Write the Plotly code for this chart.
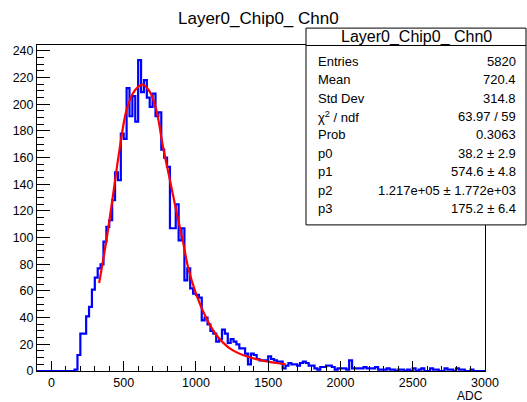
import numpy as np
import plotly.graph_objects as go

# ---------------- data ----------------
title_text = "Layer0_Chip0_ Chn0"
x_title = "ADC"
bin_start = -100
bin_width = 20
# counts for 155 bins of width 20 from -100 to 3000
counts = [
    0, 0, 0, 0, 0, 0, 0, 0, 0, 0, 0, 0, 0,            # -100 .. 140
    1, 12, 28, 28, 41, 48, 61, 70, 77, 80,             # 160 .. 340
    97, 108, 113, 128, 149, 143, 178, 174, 212, 191,   # 360 .. 540
    206, 187, 233, 209, 218, 205, 198, 208, 191, 194,  # 560 .. 740
    166, 160, 153, 107, 107, 125, 98, 107, 68, 77,     # 760 .. 940
    62, 58, 57, 55, 38, 40, 35, 30, 28, 22,            # 960 .. 1140
    24, 31, 28, 21, 24, 22, 20, 17, 17, 13,            # 1160 .. 1340
    5, 13, 12, 9, 8, 8, 8, 11, 9, 8,                   # 1360 .. 1540
    7, 7, 2, 4, 6, 5, 5, 4, 6, 7,                      # 1560 .. 1740
    6, 4, 4, 2, 1, 3, 3, 4, 4, 3,                      # 1760 .. 1940
    1, 2, 2, 2, 1, 8, 2, 2, 2, 2,                      # 1960 .. 2140
    3, 2, 2, 2, 3, 1, 1, 1, 2, 1,                      # 2160 .. 2340
    1, 0, 1, 1, 0, 1, 0, 2, 0, 1,                      # 2360 .. 2540
    2, 0, 0, 2, 1, 1, 0, 0, 2, 1,                      # 2560 .. 2740
    1, 0, 2, 1, 1, 0, 0, 1, 0, 0,                      # 2760 .. 2940
    0, 0,                                              # 2960 .. 2980
]
# fitted curve
fit_x = [330, 379, 425, 471, 518, 563, 600, 633, 679, 725, 771, 818, 864,
         910, 945, 1003, 1072, 1141, 1234, 1349, 1464, 1620]
fit_y = [66, 97, 131, 166, 195, 208, 213, 214.6, 209.6, 196, 168.6, 144, 120,
         97, 78, 57, 39.5, 27, 17, 11, 7.7, 5]

x_tick_vals = [0, 500, 1000, 1500, 2000, 2500, 3000]
y_tick_vals = [0, 20, 40, 60, 80, 100, 120, 140, 160, 180, 200, 220, 240]

stat_header = "Layer0_Chip0_ Chn0"
stat_labels = ["Entries", "Mean", "Std Dev", "χ<sup>2</sup> / ndf", "Prob",
               "p0", "p1", "p2", "p3"]
stat_values = ["5820", "720.4", "314.8", "63.97 / 59", "0.3063",
               "38.2 ± 2.9", "574.6 ± 4.8", "1.217e+05 ± 1.772e+03",
               "175.2 ± 6.4"]

# ---------------- figure ----------------
W, H = 527, 402
L, R, T, B = 37, 485, 45, 373   # plot area in px


def px_x(p):
    return (p - L) / (R - L)


def px_y(p):
    return (B - p) / (B - T)


n = len(counts)
edges = bin_start + bin_width * np.arange(n + 1)
step_y = list(counts) + [counts[-1]]

fig = go.Figure()
fig.add_trace(go.Scatter(
    x=edges, y=step_y, mode="lines", line=dict(color="#0000ff", width=2.2, shape="hv"),
    hoverinfo="skip", showlegend=False))
fig.add_trace(go.Scatter(
    x=fit_x, y=fit_y, mode="lines",
    line=dict(color="#ff0000", width=2.2, shape="spline", smoothing=1.0),
    hoverinfo="skip", showlegend=False))

font = "Liberation Sans, Arial, Helvetica, sans-serif"

fig.update_layout(
    width=W, height=H,
    margin=dict(l=L, r=W - R, t=T, b=H - B, pad=0),
    paper_bgcolor="white", plot_bgcolor="white",
    font=dict(family=font, size=13, color="black"),
    xaxis=dict(range=[bin_start, bin_start + bin_width * n], tickvals=x_tick_vals,
               ticks="inside", ticklen=10, tickwidth=1, tickcolor="black",
               showline=True, linecolor="black", linewidth=1, mirror=True,
               showgrid=False, zeroline=False, tickfont=dict(size=12.5),
               minor=dict(dtick=100, ticks="inside", ticklen=5, tickcolor="black",
                          showgrid=False)),
    yaxis=dict(range=[0, 244.4], tickvals=y_tick_vals,
               ticks="inside", ticklen=13, tickwidth=1, tickcolor="black",
               showline=True, linecolor="black", linewidth=1, mirror=True,
               showgrid=False, zeroline=False, tickfont=dict(size=12.5),
               minor=dict(dtick=5, ticks="inside", ticklen=7, tickcolor="black",
                          showgrid=False)),
)

ann = []
# title
ann.append(dict(x=px_x(258), y=px_y(18), xref="paper", yref="paper", text=title_text,
                showarrow=False, xanchor="center", yanchor="middle",
                font=dict(size=17, family=font)))
# x axis title
ann.append(dict(x=1.0, y=px_y(398), xref="paper", yref="paper", text=x_title,
                showarrow=False, xanchor="right", yanchor="middle",
                font=dict(size=12, family=font)))

# stats box
bx0, bx1, by0, by1 = 306, 526, 28, 226
shapes = [
    dict(type="rect", xref="paper", yref="paper",
         x0=px_x(bx0), x1=px_x(bx1), y0=px_y(by1), y1=px_y(by0),
         line=dict(color="black", width=1), fillcolor="white", layer="above"),
    dict(type="line", xref="paper", yref="paper",
         x0=px_x(bx0), x1=px_x(bx1), y0=px_y(45.5), y1=px_y(45.5),
         line=dict(color="black", width=1), layer="above"),
]
ann.append(dict(x=px_x((bx0 + bx1) / 2), y=px_y(37), xref="paper", yref="paper",
                text=stat_header, showarrow=False, xanchor="center", yanchor="middle",
                font=dict(size=16, family=font)))
row0, pitch = 61.5, 18.5
for i, (lab, val) in enumerate(zip(stat_labels, stat_values)):
    yy = px_y(row0 + pitch * i)
    ann.append(dict(x=px_x(316), y=yy, xref="paper", yref="paper", text=lab,
                    showarrow=False, xanchor="left", yanchor="middle",
                    font=dict(size=13, family=font)))
    ann.append(dict(x=px_x(518), y=yy, xref="paper", yref="paper", text=val,
                    showarrow=False, xanchor="right", yanchor="middle",
                    font=dict(size=13, family=font)))

fig.update_layout(annotations=ann, shapes=shapes)
fig.write_html("out.html", config={"displayModeBar": False},
               post_script="document.body.style.margin='0px';document.body.style.padding='0px';")
